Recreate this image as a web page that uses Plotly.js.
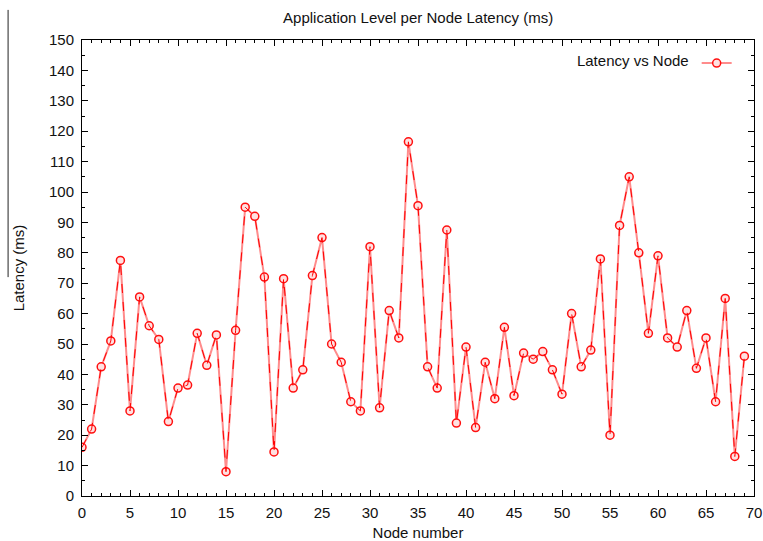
<!DOCTYPE html>
<html>
<head>
<meta charset="utf-8">
<script src="https://cdn.plot.ly/plotly-3.0.1.min.js"></script>
<style>html,body{margin:0;padding:0;background:#fff;}#chart{width:763px;height:541px;}</style>
</head>
<body>
<div id="chart"></div>
<script>
const nodes = [];
for (let i = 0; i < 70; i++) nodes.push(i);
const latency = [16, 22, 42.5, 51, 77.5, 28, 65.5, 56, 51.5, 24.5,
  35.5, 36.5, 53.5, 43, 53, 8, 54.5, 95, 92, 72,
  14.5, 71.5, 35.5, 41.5, 72.5, 85, 50, 44, 31, 28,
  82, 29, 61, 52, 116.5, 95.5, 42.5, 35.5, 87.5, 24,
  49, 22.5, 44, 32, 55.5, 33, 47, 45, 47.5, 41.5,
  33.5, 60, 42.5, 48, 78, 20, 89, 105, 80, 53.5,
  79, 52, 49, 61, 42, 52, 31, 65, 13, 46];
const seriesName = 'Latency vs Node';
const xTicks = [0, 5, 10, 15, 20, 25, 30, 35, 40, 45, 50, 55, 60, 65, 70];
const yTicks = [0, 10, 20, 30, 40, 50, 60, 70, 80, 90, 100, 110, 120, 130, 140, 150];

const font = {family: 'Liberation Sans, Arial, sans-serif', size: 15, color: '#111'};

const traces = [
  {
    x: nodes, y: latency, type: 'scatter', mode: 'lines+markers', name: ' ',
    line: {color: '#ff8c8c', width: 2},
    marker: {symbol: 'circle', size: 8, color: 'rgba(255,225,225,1)', line: {color: '#ff1010', width: 1.5}},
    showlegend: true
  },
  {
    x: nodes, y: latency, type: 'scatter', mode: 'lines', name: seriesName,
    line: {color: '#ff0000', width: 1, dash: 'dash'},
    showlegend: false, hoverinfo: 'skip'
  }
];

const axisCommon = {
  showline: true, linecolor: '#000', linewidth: 1, mirror: 'allticks',
  ticks: 'inside', ticklen: 6, tickwidth: 1, tickcolor: '#000',
  showgrid: false, zeroline: false, tickfont: font
};

const layout = {
  width: 763, height: 541,
  margin: {l: 82, r: 9, t: 40, b: 45},
  paper_bgcolor: '#fff', plot_bgcolor: '#fff',
  font: font,
  title: {text: 'Application Level per Node Latency (ms)', font: font, x: 0.548, xanchor: 'center', y: 0.967, yanchor: 'middle'},
  xaxis: Object.assign({}, axisCommon, {
    range: [0, 70], tickvals: xTicks, ticktext: xTicks.map(String),
    minor: {dtick: 1, ticks: 'inside', ticklen: 3, tickcolor: '#000', showgrid: false},
    ticklabelstandoff: 3,
    title: {text: 'Node number', font: font, standoff: 10}
  }),
  yaxis: Object.assign({}, axisCommon, {
    range: [0, 150], tickvals: yTicks, ticktext: yTicks.map(String),
    minor: {dtick: 5, ticks: 'inside', ticklen: 3, tickcolor: '#000', showgrid: false},
    ticklabelstandoff: 4,
    title: {text: 'Latency (ms)', font: font, standoff: 20}
  }),
  showlegend: true,
  legend: {
    x: 0.988, xanchor: 'right', y: 0.985, yanchor: 'top',
    bgcolor: 'rgba(0,0,0,0)', borderwidth: 0, font: font,
    title: {text: seriesName, side: 'left', font: font},
    itemwidth: 30
  },
  shapes: [
    {type: 'line', xref: 'paper', yref: 'paper', x0: -0.110, x1: -0.110, y0: 1.066, y1: 0.48,
     line: {color: '#222', width: 1}}
  ]
};

Plotly.newPlot('chart', traces, layout, {displayModeBar: false, staticPlot: true});
</script>
</body>
</html>
